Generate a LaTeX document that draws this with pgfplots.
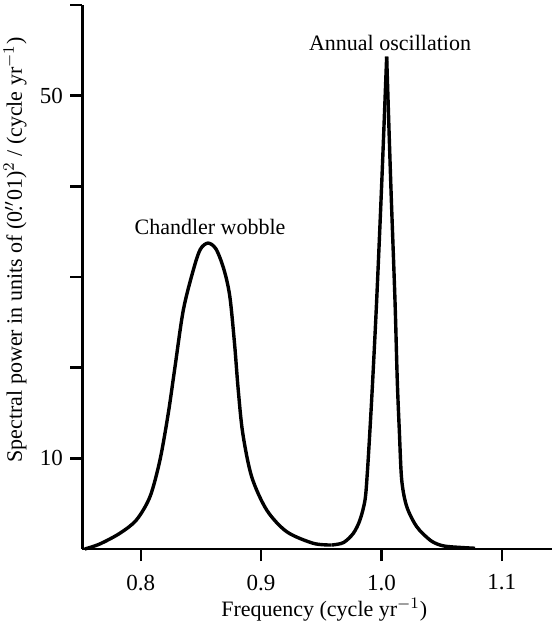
\documentclass[border=0pt]{standalone}
\usepackage{fontspec}
\setmainfont{Liberation Serif}
\usepackage{pgfplots}
\pgfplotsset{compat=1.18}
\pgfplotsset{spec/.style={black, no marks, line width=1.7pt, smooth, tension=0.5, line join=round}}

\begin{document}
\fontsize{11}{13}\selectfont
\begin{tikzpicture}
\begin{axis}[
    scale only axis,
    width=234.75pt, height=272pt,
    xmin=0.7516, xmax=1.1418,
    ymin=0, ymax=60,
    axis lines*=left,
    axis line style={line width=1.2pt},
    tick align=outside,
    major tick length=6pt,
    tick style={line width=1.2pt, black},
    xtick={0.8,0.9,1.0,1.1},
    xticklabels={0.8,0.9,1.0,1.1},
    xticklabel style={yshift=-3pt, font=\fontsize{11.5}{13}\selectfont},
    yticklabel style={font=\fontsize{11.5}{13}\selectfont},
    ytick={10,20,30,40,50,60},
    yticklabels={10,,,,50,},
    /pgf/number format/assume math mode=true,
    xlabel={Frequency (cycle yr$^{-1}$)},
    xlabel style={at={(axis description cs:0.515,-0.1244)}, anchor=base},
    ylabel={Spectral power in units of (0\rlap{.}$''$01)$^2$ / (cycle yr$^{-1}$)},
    ylabel style={at={(axis description cs:-0.1437,0.55)}, anchor=center},
    clip=false,
]
% Chandler wobble
\addplot[spec] coordinates {
    (0.7535,0) (0.7659,0.55) (0.7826,1.73) (0.7964,3.20) (0.8077,5.77)
    (0.8160,9.82) (0.8229,14.97) (0.8285,20.11) (0.8354,26.36) (0.8437,30.77)
    (0.8495,33.05) (0.8559,33.74) (0.8625,33.10) (0.8690,30.90) (0.8740,27.90)
    (0.8780,22.60) (0.8810,17.60) (0.8848,12.76) (0.8922,7.97) (0.9047,4.30)
    (0.9213,1.91) (0.9434,0.63) (0.9587,0.44)
};
% annual oscillation, rising side
\addplot[spec] coordinates {
    (0.9587,0.44) (0.9684,0.70) (0.9767,1.73) (0.9822,3.20) (0.9864,5.40)
    (0.9883,8.35) (0.9905,13.12) (0.9928,18.64) (0.9961,27.46) (1.0003,40.37)
    (1.0044,54.30)
};
% annual oscillation, falling side
\addplot[spec] coordinates {
    (1.0044,54.30) (1.0078,40.37) (1.0113,27.46) (1.0132,18.64) (1.0149,13.12)
    (1.0169,7.61) (1.0211,4.67) (1.0294,2.46) (1.0404,0.99) (1.0487,0.44)
    (1.0571,0.25) (1.0778,0.08)
};
\node[anchor=base] at (axis cs:0.8576,34.71) {Chandler wobble};
\node[anchor=base] at (axis cs:1.0072,55.03) {Annual oscillation};
\coordinate (bl) at (axis description cs:-0.1757,-0.1397);
\coordinate (tr) at (axis description cs:1,1.0092);
\end{axis}
\pgfresetboundingbox
\path[use as bounding box] (bl) rectangle (tr);
\end{tikzpicture}
\end{document}
